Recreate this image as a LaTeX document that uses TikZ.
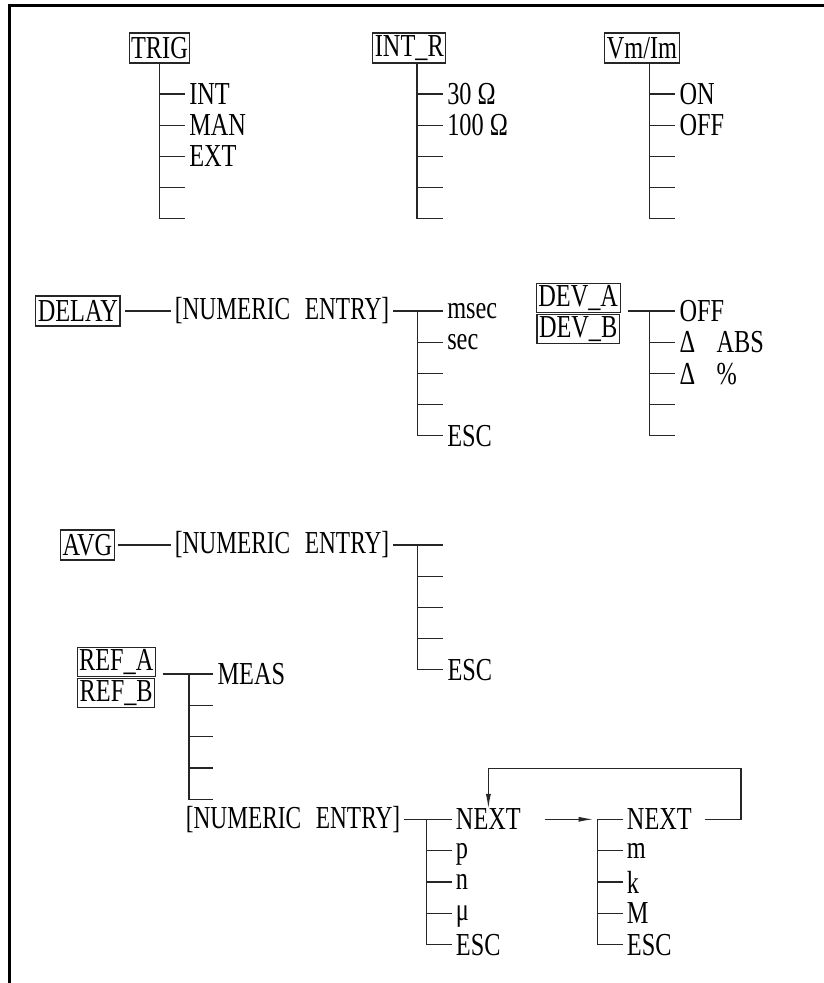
\documentclass[tikz,border=0pt]{standalone}
\usepackage{fontspec}
\setmainfont[FakeStretch=0.76]{Liberation Serif}
\newfontfamily\entryfamily[FakeStretch=0.73,WordSpace=2.5]{Liberation Serif}
\usepackage{tikz}
\usetikzlibrary{arrows.meta,positioning,calc}
\newcommand{\menufont}{\fontsize{24pt}{27pt}\selectfont}
\tikzset{
  keybox/.style={rectangle, draw=black!85, line width=0.8pt, inner xsep=1.5pt, inner ysep=0pt,
    minimum height=22.5pt, font=\menufont},
  pairbox/.style={keybox, minimum width=57.5pt, minimum height=21.8pt},
  item/.style={anchor=west, inner xsep=3pt, inner ysep=0pt, text depth=0pt, font=\menufont},
  entry/.style={anchor=west, inner xsep=3pt, inner ysep=0pt, font=\entryfamily\menufont},
  conn/.style={draw=black!85, line width=0.9pt},
  loopback/.style={conn, -{Latex[length=11pt,width=3.8pt]}},
}
\begin{document}
\begin{tikzpicture}[x=0.75pt, y=-0.75pt]
  \useasboundingbox (0,0) rectangle (824,983);
  \draw[line width=2.25pt] (9,983) -- (9,5.5) -- (824,5.5);

  % TRIG
  \node[keybox] (trig) at (159.5,48) {TRIG};
  \node[item] (trig1) at (185,94) {INT};
  \node[item] (trig2) at (185,125.2) {MAN};
  \node[item] (trig3) at (185,156.4) {EXT};
  \coordinate (trig4) at (185,187.6);
  \coordinate (trig5) at (185,218.8);
  \draw[conn] (trig.south) |- (trig5);
  \foreach \k in {1,2,3} \draw[conn] (trig.south |- trig\k) -- (trig\k.west);
  \draw[conn] (trig.south |- trig4) -- (trig4);

  % INT_R
  \node[keybox] (intr) at (409.3,48) {INT\_R};
  \coordinate (intrS) at (417,94);
  \node[item] (intr1) at (443,94) {30 Ω};
  \node[item] (intr2) at (443,125.2) {100 Ω};
  \coordinate (intr3) at (443,156.4);
  \coordinate (intr4) at (443,187.6);
  \coordinate (intr5) at (443,218.8);
  \draw[conn] (intr.south -| intrS) |- (intr5);
  \foreach \k in {1,2} \draw[conn] (intrS |- intr\k) -- (intr\k.west);
  \foreach \k in {3,4} \draw[conn] (intrS |- intr\k) -- (intr\k);

  % Vm/Im
  \node[keybox] (vmim) at (642,48) {Vm/Im};
  \coordinate (vmimS) at (649.7,94);
  \node[item] (vmim1) at (675.3,94) {ON};
  \node[item] (vmim2) at (675.3,125.2) {OFF};
  \coordinate (vmim3) at (675.3,156.4);
  \coordinate (vmim4) at (675.3,187.6);
  \coordinate (vmim5) at (675.3,218.8);
  \draw[conn] (vmim.south -| vmimS) |- (vmim5);
  \foreach \k in {1,2} \draw[conn] (vmimS |- vmim\k) -- (vmim\k.west);
  \foreach \k in {3,4} \draw[conn] (vmimS |- vmim\k) -- (vmim\k);

  % DELAY
  \node[keybox] (delay) at (77.9,311) {DELAY};
  \node[entry] (dent) at (170.5,311) {[NUMERIC ENTRY]};
  \draw[conn, shorten <=3.5pt] (delay.east) -- (dent.west);
  \coordinate (dlyS) at (417.7,311);
  \node[item] (dly1) at (443,311) {msec};
  \node[item] (dly2) at (443,342.2) {sec};
  \coordinate (dly3) at (443,373.4);
  \coordinate (dly4) at (443,404.6);
  \node[item] (dly5) at (443,435.8) {ESC};
  \draw[conn] (dent.east) -- (dly1.west);
  \draw[conn] (dlyS) |- (dly5.west);
  \draw[conn] (dlyS |- dly2) -- (dly2.west);
  \foreach \k in {3,4} \draw[conn] (dlyS |- dly\k) -- (dly\k);

  % DEV_A / DEV_B
  \node[pairbox] (deva) at (578.2,297.8) {DEV\_A};
  \node[pairbox] (devb) at (578.2,328.8) {DEV\_B};
  \coordinate (devS) at (649.7,311);
  \node[item] (dev1) at (675.3,311) {OFF};
  \node[item] (dev2) at (675.3,342.2) {Δ\hspace{16pt}ABS};
  \node[item] (dev3) at (675.3,373.4) {Δ\hspace{16pt}\%};
  \coordinate (dev4) at (675.3,404.6);
  \coordinate (dev5) at (675.3,435.8);
  \draw[conn, shorten <=5.5pt] (deva.east |- dev1) -- (dev1.west);
  \draw[conn] (devS) |- (dev5);
  \foreach \k in {2,3} \draw[conn] (devS |- dev\k) -- (dev\k.west);
  \draw[conn] (devS |- dev4) -- (dev4);

  % AVG
  \node[keybox] (avg) at (87.5,545) {AVG};
  \node[entry] (aent) at (170.5,545) {[NUMERIC ENTRY]};
  \draw[conn, shorten <=2.5pt] (avg.east) -- (aent.west);
  \coordinate (avgS) at (417.7,545);
  \coordinate (avg1) at (443.3,545);
  \coordinate (avg2) at (443.3,576.2);
  \coordinate (avg3) at (443.3,607.4);
  \coordinate (avg4) at (443.3,638.6);
  \node[item] (avg5) at (443.3,669.8) {ESC};
  \draw[conn] (aent.east) -- (avg1);
  \draw[conn] (avgS) |- (avg5.west);
  \foreach \k in {2,3,4} \draw[conn] (avgS |- avg\k) -- (avg\k);

  % REF_A / REF_B
  \node[pairbox] (refa) at (116.2,661.7) {REF\_A};
  \node[pairbox] (refb) at (116.2,693) {REF\_B};
  \coordinate (refS) at (189,674);
  \node[item] (ref1) at (213.3,674) {MEAS};
  \coordinate (ref2) at (213.3,705.3);
  \coordinate (ref3) at (213.3,736.6);
  \coordinate (ref4) at (213.3,767.9);
  \coordinate (ref5) at (213.3,799.2);
  \draw[conn, shorten <=5pt] (refa.east |- ref1) -- (ref1.west);
  \draw[conn] (refS) |- (ref5);
  \foreach \k in {2,3,4} \draw[conn] (refS |- ref\k) -- (ref\k);

  % prefix entry
  \node[entry] (bent) at (181.5,819.3) {[NUMERIC ENTRY]};
  \coordinate (preS) at (426.7,819.3);
  \node[item] (pre1) at (451.7,819.3) {NEXT};
  \node[item] (pre2) at (451.7,850.6) {p};
  \node[item] (pre3) at (451.7,881.9) {n};
  \node[item] (pre4) at (451.7,913.2) {μ};
  \node[item] (pre5) at (451.7,944.5) {ESC};
  \draw[conn] (bent.east) -- (pre1.west);
  \draw[conn] (preS) |- (pre5.west);
  \foreach \k in {2,3,4} \draw[conn] (preS |- pre\k) -- (pre\k.west);

  \coordinate (sufS) at (597.3,819.3);
  \node[item] (suf1) at (622.7,819.3) {NEXT};
  \node[item] (suf2) at (622.7,850.6) {m};
  \node[item] (suf3) at (622.7,881.9) {k};
  \node[item] (suf4) at (622.7,913.2) {M};
  \node[item] (suf5) at (622.7,944.5) {ESC};
  \draw[conn] (sufS) -- (suf1.west);
  \draw[conn] (sufS) |- (suf5.west);
  \foreach \k in {2,3,4} \draw[conn] (sufS |- suf\k) -- (suf\k.west);

  \draw[loopback, shorten <=15pt, shorten >=3pt] (pre1.east) -- (sufS);
  \coordinate (turn) at (741,768.3);
  \draw[loopback, shorten <=7pt] (suf1.east) -| (turn) -| (pre1.north);
\end{tikzpicture}
\end{document}
